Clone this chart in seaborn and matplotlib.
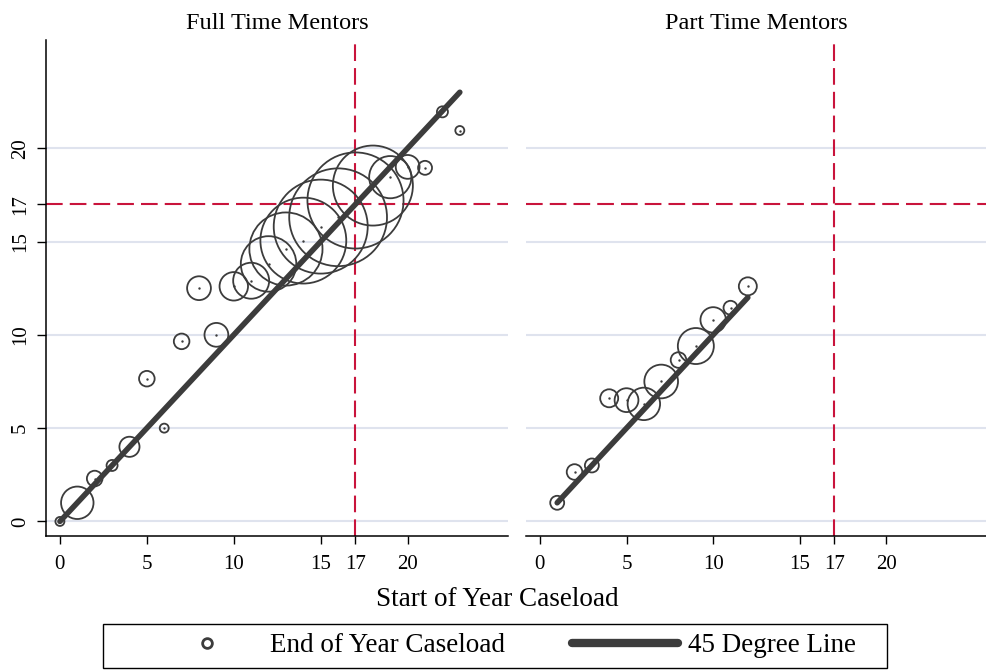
import matplotlib

matplotlib.use("Agg")

import matplotlib.pyplot as plt
from matplotlib.lines import Line2D
from matplotlib.patches import Rectangle
import pandas as pd
import seaborn as sns

# full time mentors: start-of-year caseload, mean end-of-year caseload, number of mentors
FULL_START = [0, 1, 2, 3, 4, 5, 6, 7, 8, 9, 10, 11, 12, 13, 14, 15, 16, 17, 18, 19, 20, 21, 22, 23]
FULL_END = [0, 1, 2.3, 3, 4, 7.65, 5, 9.65, 12.5, 10, 12.6, 12.9, 13.8, 14.6, 15.05, 15.8,
            16.3, 17.2, 18, 18.45, 19, 18.95, 21.95, 20.95]
FULL_COUNT = [1, 13, 3, 1.5, 5, 3, 1, 3, 7, 7, 10, 16, 38, 66, 91, 109, 118, 114, 79, 22, 7, 2.4, 1.5, 1]

# part time mentors
PART_START = [1, 2, 3, 4, 5, 6, 7, 8, 9, 10, 11, 12]
PART_END = [1, 2.65, 3, 6.6, 6.5, 6.3, 7.5, 8.65, 9.4, 10.8, 11.45, 12.6]
PART_COUNT = [2.4, 3, 2.4, 4, 7, 13, 14, 3, 16, 8, 2.4, 4]

# 45 degree reference line end points
FULL_LINE = [0, 23]
PART_LINE = [1, 12]

X_TICKS = [0, 5, 10, 15, 17, 20]
Y_TICKS = [0, 5, 10, 15, 17, 20]
GRID_Y = [0, 5, 10, 15, 20]
CUTOFF = 17

DARK = "#3c3c3c"
RED = "#c9143c"
GRID = "#dfe3ee"
SIZE_PER_MENTOR = 42

sns.set_theme(style="white")
plt.rcParams["font.family"] = ["Liberation Serif", "DejaVu Serif"]
plt.rcParams["text.color"] = "black"
plt.rcParams["xtick.color"] = "black"
plt.rcParams["ytick.color"] = "black"

fig = plt.figure(figsize=(9.87, 6.71), dpi=100)
W, H = 987, 671
bottom = (H - 536) / H
height = (536 - 40) / H
ax_full = fig.add_axes([46 / W, bottom, 462.5 / W, height])
ax_part = fig.add_axes([526 / W, bottom, 461 / W, height])


def draw_panel(ax, start, end, count, line, title):
    data = pd.DataFrame({"start": start, "end": end, "count": count})
    for g in GRID_Y:
        ax.axhline(g, color=GRID, lw=1.5, zorder=0.5)
    ax.axhline(CUTOFF, color=RED, lw=1.5, dashes=(8, 3.4), zorder=1)
    ax.axvline(CUTOFF, color=RED, lw=1.5, dashes=(8, 3.4), zorder=1)
    cmin, cmax = min(count), max(count)
    sns.scatterplot(data=data, x="start", y="end", size="count",
                    sizes=(SIZE_PER_MENTOR * cmin, SIZE_PER_MENTOR * cmax),
                    size_norm=(cmin, cmax), legend=False, ax=ax, zorder=2)
    pts = ax.collections[-1]
    pts.set_facecolor("none")
    pts.set_edgecolor(DARK)
    pts.set_linewidth(1.3)
    sns.scatterplot(data=data, x="start", y="end", s=3, color=DARK,
                    linewidth=0, legend=False, ax=ax, zorder=2.5)
    sns.lineplot(x=line, y=line, color=DARK, lw=4, ax=ax, zorder=3,
                 solid_capstyle="round")
    ax.set_xlim(-0.8, 25.8)
    ax.set_ylim(-0.78, 25.8)
    ax.set_xticks(X_TICKS)
    ax.set_xlabel("")
    ax.set_ylabel("")
    ax.set_title(title, fontsize=17.5, pad=8, color="black")
    for side in ["top", "right"]:
        ax.spines[side].set_visible(False)
    ax.spines["bottom"].set_color("black")
    ax.spines["bottom"].set_linewidth(1.1)
    ax.tick_params(axis="x", bottom=True, length=6, width=1, color="black",
                   labelcolor="black", labelsize=15, pad=7.5)


draw_panel(ax_full, FULL_START, FULL_END, FULL_COUNT, FULL_LINE, "Full Time Mentors")
draw_panel(ax_part, PART_START, PART_END, PART_COUNT, PART_LINE, "Part Time Mentors")

ax_full.set_yticks(Y_TICKS)
ax_full.spines["left"].set_color("black")
ax_full.spines["left"].set_linewidth(1.1)
ax_full.tick_params(axis="y", left=True, length=6.5, width=1, color="black",
                    labelcolor="black", labelsize=15, pad=5)
for lab in ax_full.get_yticklabels():
    lab.set_rotation(90)
    lab.set_va("center")

ax_part.spines["left"].set_visible(False)
ax_part.set_yticks(Y_TICKS)
ax_part.tick_params(axis="y", left=False, labelleft=False)

fig.text(497 / W, 1 - 600 / H, "Start of Year Caseload", ha="center", va="center",
         fontsize=19.5, color="black")

# legend box drawn by hand so the padding can be uneven like the original
fig.patches.append(Rectangle((103 / W, 1 - 668 / H), 784 / W, 44 / H,
                             transform=fig.transFigure, fill=False,
                             edgecolor="black", lw=1.0))
handles = [
    Line2D([], [], ls="none", marker="o", ms=7, mfc="none", mec=DARK, mew=2),
    Line2D([], [], color=DARK, lw=6, solid_capstyle="round"),
]
fig.legend(handles, ["End of Year Caseload", "45 Degree Line"], ncol=2,
           loc="center", bbox_to_anchor=(505 / W, 1 - 646 / H), fontsize=19.5,
           frameon=False, borderpad=0.0, handlelength=3.9, handletextpad=0.37,
           columnspacing=2.5)

fig.savefig("out.png", dpi=100)
